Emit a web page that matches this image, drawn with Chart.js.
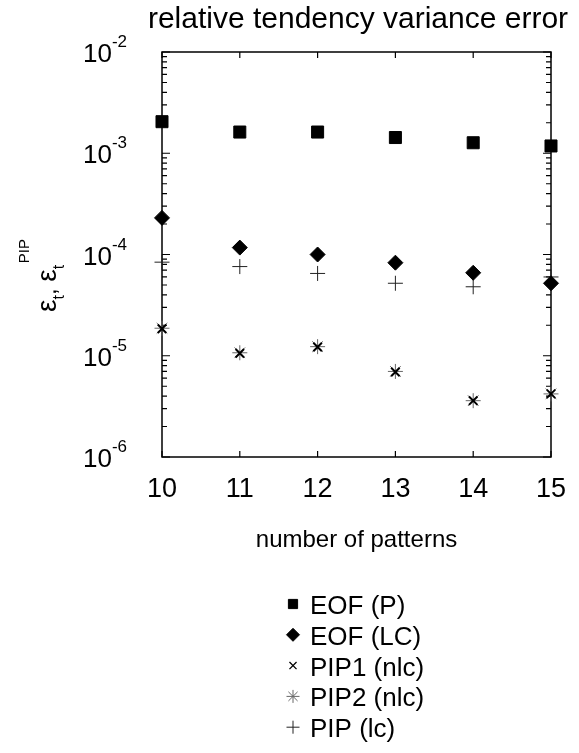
<!DOCTYPE html>
<html>
<head>
<meta charset="utf-8">
<script src="https://cdn.jsdelivr.net/npm/chart.js@4/dist/chart.umd.min.js"></script>
<style>
  html, body { margin: 0; padding: 0; background: #fff; }
  #wrap { width: 579px; height: 753px; position: relative; }
</style>
</head>
<body>
<div id="wrap"><canvas id="errChart"></canvas></div>
<script>
// number of patterns on the x axis
const patterns = [10, 11, 12, 13, 14, 15];

// relative tendency variance error for each method
const eofP  = [2.05e-3, 1.62e-3, 1.62e-3, 1.43e-3, 1.27e-3, 1.18e-3];
const eofLC = [2.3e-4, 1.17e-4, 1.0e-4, 8.3e-5, 6.6e-5, 5.2e-5];
const pip1  = [1.85e-5, 1.06e-5, 1.22e-5, 6.9e-6, 3.6e-6, 4.2e-6];
const pip2  = [1.87e-5, 1.07e-5, 1.23e-5, 7.0e-6, 3.6e-6, 4.2e-6];
const pipLc = [8.4e-5, 7.6e-5, 6.5e-5, 5.2e-5, 4.8e-5, 6.0e-5];

const seriesNames = ['EOF (P)', 'EOF (LC)', 'PIP1 (nlc)', 'PIP2 (nlc)', 'PIP (lc)'];
const yExponents = [-6, -5, -4, -3, -2];

const FONT = "'Liberation Sans', Arial, Helvetica, sans-serif";

function pts(vals) {
  return vals.map((v, i) => ({ x: patterns[i], y: v }));
}

// marker look per series, reused by the legend
const markers = [
  { pointStyle: 'rect',     radius: 8.5, color: '#000', fill: '#000', width: 1,   legendRadius: 6.5 },
  { pointStyle: 'rectRot',  radius: 7.5, color: '#000', fill: '#000', width: 1,   legendRadius: 6.5 },
  { pointStyle: 'crossRot', radius: 6,   color: '#000', fill: '#000', width: 2,   legendRadius: 5 },
  { pointStyle: 'star',     radius: 7.5, color: '#666', fill: '#666', width: 1,   legendRadius: 6.5 },
  { pointStyle: 'cross',    radius: 7.5, color: '#222', fill: '#222', width: 1,   legendRadius: 6.5 }
];
const seriesData = [eofP, eofLC, pip1, pip2, pipLc];

const datasets = seriesData.map((vals, i) => ({
  label: seriesNames[i],
  data: pts(vals),
  pointStyle: markers[i].pointStyle,
  pointRadius: markers[i].radius,
  pointBorderWidth: markers[i].width,
  pointBorderColor: markers[i].color,
  pointBackgroundColor: markers[i].fill,
  showLine: false,
  clip: false
}));

// frame, inward ticks, tick labels, titles and legend
const paperAxes = {
  id: 'paperAxes',
  beforeDatasetsDraw(chart) {
    const { ctx, chartArea: a, scales: { x, y } } = chart;
    ctx.save();
    ctx.strokeStyle = '#000';
    ctx.lineWidth = 1.5;
    ctx.strokeRect(a.left, a.top, a.right - a.left, a.bottom - a.top);

    ctx.lineWidth = 1.2;
    ctx.beginPath();
    // x ticks, top and bottom
    patterns.forEach(p => {
      const px = x.getPixelForValue(p);
      ctx.moveTo(px, a.bottom); ctx.lineTo(px, a.bottom - 6);
      ctx.moveTo(px, a.top); ctx.lineTo(px, a.top + 6);
    });
    // log ticks on left and right
    yExponents.forEach((e, k) => {
      for (let m = 1; m <= 9; m++) {
        if (m > 1 && k === yExponents.length - 1) break;
        const py = y.getPixelForValue(m * Math.pow(10, e));
        const len = m === 1 ? 8 : 5;
        ctx.moveTo(a.left, py); ctx.lineTo(a.left + len, py);
        ctx.moveTo(a.right, py); ctx.lineTo(a.right - len, py);
      }
    });
    ctx.stroke();
    ctx.restore();
  },
  afterDraw(chart) {
    const { ctx, chartArea: a, scales: { x, y } } = chart;
    ctx.save();
    ctx.fillStyle = '#000';

    // title
    ctx.font = '30px ' + FONT;
    ctx.textAlign = 'center';
    ctx.textBaseline = 'alphabetic';
    ctx.fillText('relative tendency variance error', 358, 28);

    // x tick labels
    ctx.font = '27px ' + FONT;
    patterns.forEach(p => {
      ctx.fillText(String(p), x.getPixelForValue(p), a.bottom + 40);
    });
    // x axis title
    ctx.font = '24px ' + FONT;
    ctx.fillText('number of patterns', (a.left + a.right) / 2, a.bottom + 90);

    // y tick labels as 10 with superscript exponent
    yExponents.forEach(e => {
      const py = y.getPixelForValue(Math.pow(10, e));
      ctx.textAlign = 'left';
      ctx.font = '26px ' + FONT;
      ctx.fillText('10', 83, py + 10);
      const w = ctx.measureText('10').width;
      ctx.font = '17px ' + FONT;
      ctx.fillText(String(e), 83 + w, py - 5);
    });

    // y axis label: eps_t, eps_t^PIP, rotated
    ctx.translate(56, 312);
    ctx.rotate(-Math.PI / 2);
    ctx.textAlign = 'left';
    let cx = 0;
    const part = (txt, size, dy) => {
      ctx.font = size + 'px ' + FONT;
      ctx.fillText(txt, cx, dy);
      cx += ctx.measureText(txt).width;
    };
    part('\u03b5', 28, 0);
    part('t', 16, 8);
    part(', ', 24, 0);
    part('\u03b5', 28, 0);
    const subStart = cx;
    part('t', 16, 8);
    cx = subStart + 6;
    part('PIP', 15, -27);
    ctx.setTransform(1, 0, 0, 1, 0, 0);

    // legend, one entry per row
    const lx = 293, ly0 = 604, step = 30.8;
    chart.data.datasets.forEach((ds, i) => {
      const mk = markers[i];
      const ry = ly0 + i * step;
      ctx.strokeStyle = mk.color;
      ctx.fillStyle = mk.fill;
      ctx.lineWidth = i === 2 ? 1.3 : 1;
      Chart.helpers.drawPoint(ctx, {
        pointStyle: mk.pointStyle, rotation: 0, radius: mk.legendRadius, borderWidth: ctx.lineWidth
      }, lx, ry);
      ctx.fillStyle = '#000';
      ctx.font = '26px ' + FONT;
      ctx.textAlign = 'left';
      ctx.fillText(ds.label, lx + 17, ry + 10);
    });
    ctx.restore();
  }
};

new Chart(document.getElementById('errChart'), {
  type: 'scatter',
  data: { datasets },
  options: {
    responsive: true,
    maintainAspectRatio: false,
    animation: false,
    layout: { padding: { left: 162, right: 28, top: 52, bottom: 296 } },
    scales: {
      x: { type: 'linear', min: 10, max: 15, display: false },
      y: { type: 'logarithmic', min: 1e-6, max: 1e-2, display: false }
    },
    plugins: {
      legend: { display: false },
      tooltip: { enabled: false }
    }
  },
  plugins: [paperAxes]
});
</script>
</body>
</html>
